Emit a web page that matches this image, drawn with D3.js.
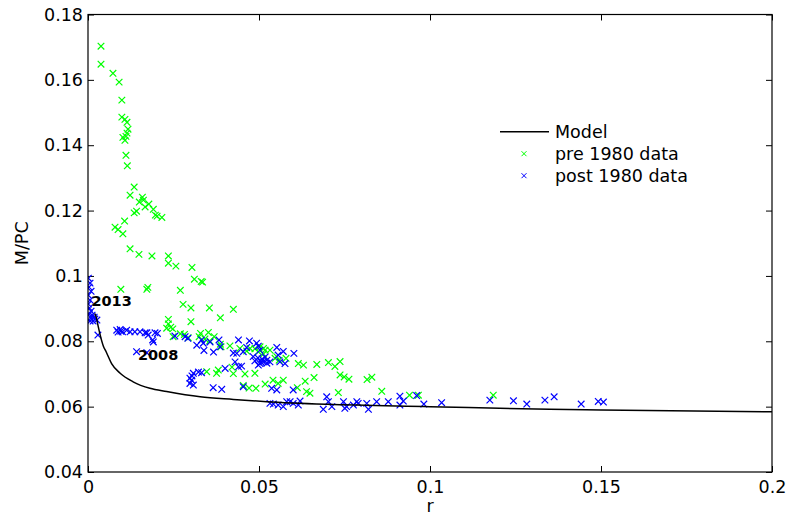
<!DOCTYPE html>
<html>
<head>
<meta charset="utf-8">
<script src="https://cdn.jsdelivr.net/npm/d3@7"></script>
<style>
  body { margin: 0; background: #fff; }
  text { font-family: "DejaVu Sans", sans-serif; }
</style>
</head>
<body>
<div id="chart"></div>
<script>
// Model curve (r, M/PC)
var model = [[0.002,0.0885],[0.0025,0.0870],[0.003,0.0845],[0.0035,0.0822],[0.0045,0.0785],[0.0053,0.0768],
  [0.0069,0.0732],[0.0094,0.0702],[0.0132,0.0676],[0.0181,0.0656],[0.023,0.0646],[0.0328,0.0630],
  [0.0425,0.0622],[0.0523,0.0615],[0.07,0.0607],[0.1,0.0600],[0.135,0.0592],[0.15,0.0590],[0.2,0.0584]];

// pre 1980 observations (r, M/PC)
var pre1980 = [[0.0038,0.1703],[0.0038,0.1648],[0.0073,0.1620],[0.0091,0.1593],[0.0099,0.1538],[0.0099,0.1486],
  [0.0108,0.1479],[0.0114,0.1470],[0.0117,0.1449],[0.0114,0.1437],[0.0111,0.1427],[0.0102,0.1424],[0.0108,0.1415],
  [0.0111,0.1369],[0.0115,0.1337],[0.0135,0.1272],[0.0123,0.1247],[0.0159,0.1241],[0.0162,0.1232],[0.0150,0.1226],
  [0.0178,0.1220],[0.0167,0.1211],[0.0191,0.1204],[0.0142,0.1198],[0.0135,0.1193],[0.0197,0.1186],[0.0202,0.1183],
  [0.0216,0.1179],[0.0107,0.1168],[0.0079,0.1149],[0.0088,0.1142],[0.0102,0.1129],[0.0123,0.1083],[0.0149,0.1066],
  [0.0187,0.1061],[0.0235,0.1061],[0.0235,0.1039],[0.0257,0.1030],[0.0304,0.1026],[0.0096,0.0959],[0.0172,0.0959],
  [0.0175,0.0965],[0.0270,0.0956],[0.0311,0.0990],[0.0331,0.0983],[0.0335,0.0981],[0.0278,0.0913],[0.0301,0.0902],
  [0.0355,0.0902],[0.0425,0.0898],[0.0387,0.0872],[0.0301,0.0860],[0.0235,0.0867],[0.0235,0.0853],[0.0242,0.0843],
  [0.0230,0.0840],[0.0248,0.0838],[0.0270,0.0823],[0.0282,0.0821],[0.0293,0.0811],[0.0329,0.0824],[0.0352,0.0827],
  [0.0325,0.0814],[0.0342,0.0807],[0.0356,0.0801],[0.0387,0.0791],[0.0389,0.0783],[0.0415,0.0786],[0.0369,0.0814],
  [0.0249,0.0814],[0.0444,0.0778],[0.0464,0.0770],[0.0474,0.0778],[0.0498,0.0768],[0.0513,0.0778],[0.0552,0.0753],
  [0.0347,0.0707],[0.0381,0.0712],[0.0376,0.0702],[0.0421,0.0721],[0.0425,0.0701],[0.0459,0.0700],[0.0488,0.0702],
  [0.0454,0.0665],[0.0471,0.0657],[0.0491,0.0656],[0.0518,0.0669],[0.0541,0.0681],[0.0571,0.0681],[0.0556,0.0671],
  [0.0518,0.0773],[0.0547,0.0748],[0.0559,0.0742],[0.0615,0.0732],[0.0630,0.0727],[0.0669,0.0729],[0.0703,0.0735],
  [0.0722,0.0723],[0.0737,0.0738],[0.0635,0.0678],[0.0661,0.0689],[0.0612,0.0658],[0.0639,0.0646],[0.0649,0.0641],
  [0.0732,0.0643],[0.0737,0.0697],[0.0749,0.0691],[0.0763,0.0684],[0.0816,0.0683],[0.0830,0.0690],[0.0859,0.0647],
  [0.0940,0.0635],[0.0966,0.0635],[0.1185,0.0635],[0.0488,0.0777],[0.0503,0.0783],[0.0532,0.0773],[0.0579,0.0748],
  [0.0513,0.0761]];

// post 1980 observations (r, M/PC)
var post1980 = [[0.0001,0.0993],[0.0006,0.0978],[0.0003,0.0966],[0.0009,0.0953],[0.0001,0.0941],[0.0006,0.0926],
  [0.0001,0.0914],[0.0004,0.0902],[0.0009,0.0892],[0.0003,0.0883],[0.0012,0.0880],[0.0018,0.0874],[0.0009,0.0871],
  [0.0020,0.0868],[0.0015,0.0862],[0.0006,0.0862],[0.0026,0.0865],[0.0029,0.0819],
  [0.0084,0.0834],[0.0088,0.0828],[0.0094,0.0836],[0.0096,0.0831],[0.0101,0.0829],[0.0113,0.0834],[0.0123,0.0829],
  [0.0137,0.0829],[0.0152,0.0829],[0.0167,0.0826],[0.0176,0.0819],[0.0189,0.0804],[0.0203,0.0824],[0.0172,0.0826],
  [0.0196,0.0826],[0.0191,0.0798],
  [0.0142,0.0768],[0.0172,0.0765],[0.0254,0.0816],[0.0284,0.0814],[0.0292,0.0809],[0.0332,0.0804],[0.0318,0.0788],
  [0.0337,0.0794],[0.0339,0.0772],[0.0367,0.0767],[0.0357,0.0798],[0.0383,0.0804],[0.0386,0.0783],[0.0440,0.0804],
  [0.0425,0.0764],[0.0435,0.0763],[0.0454,0.0768],[0.0464,0.0781],[0.0472,0.0801],[0.0493,0.0794],[0.0498,0.0785],
  [0.0503,0.0773],[0.0552,0.0781],[0.0571,0.0769],[0.0602,0.0763],[0.0556,0.0758],[0.0523,0.0742],[0.0503,0.0732],
  [0.0513,0.0737],[0.0532,0.0737],[0.0561,0.0737],[0.0576,0.0732],[0.0483,0.0753],[0.0498,0.0727],[0.0497,0.0749],
  [0.0509,0.0746],[0.0518,0.0752],[0.0506,0.0736],[0.0523,0.0733],[0.0488,0.0740],[0.0449,0.0724],[0.0430,0.0737],
  [0.0440,0.0722],[0.0401,0.0717],[0.0332,0.0704],[0.0323,0.0706],[0.0308,0.0702],[0.0304,0.0694],[0.0298,0.0687],
  [0.0303,0.0681],[0.0298,0.0671],[0.0308,0.0666],[0.0366,0.0658],[0.0391,0.0653],[0.0454,0.0661],[0.0537,0.0656],
  [0.0552,0.0651],[0.0600,0.0651],
  [0.0532,0.0610],[0.0542,0.0608],[0.0556,0.0605],[0.0581,0.0615],[0.0571,0.0600],[0.0591,0.0615],[0.0600,0.0610],
  [0.0615,0.0605],[0.0620,0.0617],[0.0698,0.0630],[0.0703,0.0615],[0.0688,0.0592],[0.0713,0.0600],[0.0747,0.0615],
  [0.0751,0.0595],[0.0756,0.0600],[0.0776,0.0605],[0.0786,0.0615],[0.0790,0.0610],[0.0815,0.0610],[0.0820,0.0592],
  [0.0844,0.0615],[0.0878,0.0615],[0.0912,0.0632],[0.0922,0.0617],[0.0912,0.0605],[0.0961,0.0634],[0.0982,0.0608],
  [0.1034,0.0612],[0.1175,0.0620],[0.1244,0.0618],[0.1283,0.0608],[0.1336,0.0620],[0.1363,0.0630],[0.1442,0.0608],
  [0.1492,0.0616],[0.1507,0.0614]];

// Year annotations
var annotations = [{label: "2013", r: 0.001, v: 0.0908}, {label: "2008", r: 0.0146, v: 0.0744}];

var xTicks = [0, 0.05, 0.1, 0.15, 0.2];
var xTickLabels = ["0", "0.05", "0.1", "0.15", "0.2"];
var yTicks = [0.04, 0.06, 0.08, 0.1, 0.12, 0.14, 0.16, 0.18];
var yTickLabels = ["0.04", "0.06", "0.08", "0.1", "0.12", "0.14", "0.16", "0.18"];

var legendItems = [
  {name: "Model", type: "line", color: "#000"},
  {name: "pre 1980 data", type: "x", color: "#00ff00"},
  {name: "post 1980 data", type: "x", color: "#0000ff"}
];

// Dimensions
var margin = {top: 14.5, right: 20, bottom: 45, left: 88},
    width = 772 - margin.left,
    height = 472 - margin.top;

var svg = d3.select("#chart").append("svg")
    .attr("width", 792)
    .attr("height", 517)
    .style("display", "block")
  .append("g")
    .attr("transform", "translate(" + margin.left + "," + margin.top + ")");

var x = d3.scaleLinear().domain([0, 0.2]).range([0, width]);
var y = d3.scaleLinear().domain([0.04, 0.18]).range([height, 0]);

var fontSize = 17.5;

// Axes (MATLAB style: inward ticks on all four sides)
svg.append("g")
    .attr("transform", "translate(0," + height + ")")
    .call(d3.axisBottom(x).tickValues(xTicks).tickSize(-6).tickPadding(9)
      .tickFormat(function(d, i) { return xTickLabels[i]; }));
svg.append("g")
    .call(d3.axisTop(x).tickValues(xTicks).tickSize(-6).tickFormat(""));
svg.append("g")
    .call(d3.axisLeft(y).tickValues(yTicks).tickSize(-6).tickPadding(5)
      .tickFormat(function(d, i) { return yTickLabels[i]; }));
svg.append("g")
    .attr("transform", "translate(" + width + ",0)")
    .call(d3.axisRight(y).tickValues(yTicks).tickSize(-6).tickFormat(""));

svg.selectAll(".domain").remove();
svg.selectAll(".tick line").attr("stroke", "#000");
svg.selectAll(".tick text")
    .style("font-family", "DejaVu Sans, sans-serif")
    .style("font-size", fontSize + "px")
    .attr("fill", "#000");

// Clip to axes
svg.append("clipPath").attr("id", "clip")
  .append("rect").attr("width", width).attr("height", height);

var plot = svg.append("g").attr("clip-path", "url(#clip)");

var cross = "M-3.3,-3.3L3.3,3.3M-3.3,3.3L3.3,-3.3";

function drawSeries(data, color) {
  plot.append("g").selectAll("path")
    .data(data)
    .enter().append("path")
      .attr("d", cross)
      .attr("transform", function(d) { return "translate(" + x(d[0]) + "," + y(d[1]) + ")"; })
      .attr("stroke", color)
      .attr("stroke-width", 1.2)
      .attr("fill", "none");
}

drawSeries(pre1980, "#00ff00");
drawSeries(post1980, "#0000ff");

// Model line
var line = d3.line()
    .x(function(d) { return x(d[0]); })
    .y(function(d) { return y(d[1]); })
    .curve(d3.curveMonotoneX);

plot.append("path")
    .datum(model)
    .attr("d", line)
    .attr("fill", "none")
    .attr("stroke", "#000")
    .attr("stroke-width", 1.5);

// Annotations
svg.selectAll(".annot")
    .data(annotations)
    .enter().append("text")
      .attr("class", "annot")
      .attr("x", function(d) { return x(d.r); })
      .attr("y", function(d) { return y(d.v); })
      .style("font-size", "14.5px")
      .style("font-weight", "bold")
      .text(function(d) { return d.label; });

// Box
svg.append("rect")
    .attr("width", width)
    .attr("height", height)
    .attr("fill", "none")
    .attr("stroke", "#000")
    .attr("stroke-width", 1.2);

// Axis labels
svg.append("text")
    .attr("x", width / 2)
    .attr("y", height + 40)
    .attr("text-anchor", "middle")
    .style("font-size", fontSize + "px")
    .text("r");

svg.append("text")
    .attr("transform", "translate(" + (-60) + "," + (height / 2) + ") rotate(-90)")
    .attr("text-anchor", "middle")
    .style("font-size", fontSize + "px")
    .text("M/PC");

// Legend
var legend = svg.append("g")
    .attr("transform", "translate(" + (500 - margin.left) + "," + (131.7 - margin.top) + ")");

var li = legend.selectAll(".legend-item")
    .data(legendItems)
    .enter().append("g")
      .attr("class", "legend-item")
      .attr("transform", function(d, i) { return "translate(0," + (i * 22) + ")"; });

li.filter(function(d) { return d.type === "line"; })
  .append("line")
    .attr("x1", 0).attr("x2", 49)
    .attr("stroke", function(d) { return d.color; })
    .attr("stroke-width", 1.5);

li.filter(function(d) { return d.type === "x"; })
  .append("path")
    .attr("d", "M-2.5,-2.5L2.5,2.5M-2.5,2.5L2.5,-2.5")
    .attr("transform", "translate(24,0)")
    .attr("stroke", function(d) { return d.color; })
    .attr("fill", "none");

li.append("text")
    .attr("x", 55)
    .attr("y", 6)
    .style("font-size", fontSize + "px")
    .text(function(d) { return d.name; });
</script>
</body>
</html>
